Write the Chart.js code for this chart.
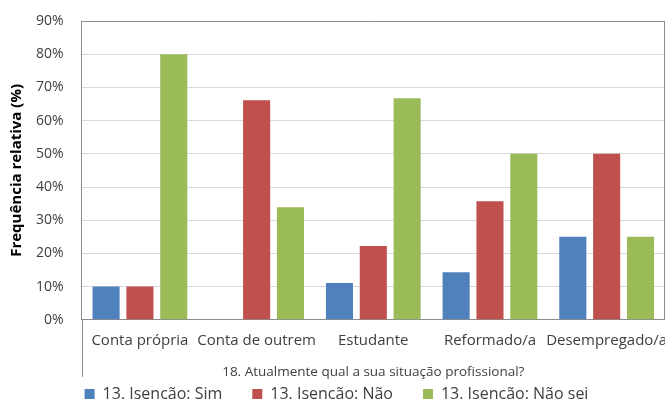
<!DOCTYPE html>
<html>
<head>
<meta charset="utf-8">
<script src="https://cdn.jsdelivr.net/npm/chart.js@4/dist/chart.umd.min.js"></script>
<style>
  html, body { margin: 0; padding: 0; background: #fff; }
  #wrap { width: 665px; height: 407px; }
</style>
</head>
<body>
<div id="wrap"><canvas id="chart" width="665" height="407"></canvas></div>
<script>
// Situação profissional vs. resposta sobre isenção (frequência relativa, %)
const categorias = ['Conta própria', 'Conta de outrem', 'Estudante', 'Reformado/a', 'Desempregado/a'];
const serieSim = [10, 0, 11.1, 14.3, 25];
const serieNao = [10, 66.1, 22.2, 35.7, 50];
const serieNaoSei = [80, 33.9, 66.7, 50, 25];
const nomesSeries = ['13. Isencão: Sim', '13. Isencão: Não', '13. Isencão: Não sei'];
const yTicks = [0, 10, 20, 30, 40, 50, 60, 70, 80, 90];

const FONT = '"Open Sans", sans-serif';
const TXT = '#404040';

// moldura da área do gráfico + prolongamento do eixo vertical
const frame = {
    id: 'frame',
    beforeDatasetsDraw(chart) {
        const { ctx, chartArea: a } = chart;
        ctx.save();
        ctx.strokeStyle = '#8c8c8c';
        ctx.lineWidth = 1;
        ctx.beginPath();
        ctx.moveTo(Math.round(a.left) + 0.5, a.bottom);
        ctx.lineTo(Math.round(a.left) + 0.5, a.bottom + 57);
        ctx.moveTo(a.left, Math.round(a.top) + 0.5);
        ctx.lineTo(a.right, Math.round(a.top) + 0.5);
        ctx.moveTo(Math.round(a.right) - 0.5, a.top);
        ctx.lineTo(Math.round(a.right) - 0.5, a.bottom);
        ctx.stroke();
        ctx.restore();
    }
};

const cores = ['#4F81BD', '#C0504D', '#9BBB59'];
const series = [serieSim, serieNao, serieNaoSei];

new Chart(document.getElementById('chart'), {
    type: 'bar',
    data: {
        labels: categorias,
        datasets: series.map((d, i) => ({
            label: nomesSeries[i],
            data: d,
            backgroundColor: cores[i],
            borderWidth: 0,
            barPercentage: 0.8,
            categoryPercentage: 0.87
        }))
    },
    options: {
        responsive: false,
        animation: false,
        layout: { padding: { top: 21, left: 8, right: 0, bottom: -5 } },
        plugins: {
            legend: {
                position: 'bottom',
                labels: {
                    boxWidth: 10,
                    boxHeight: 10,
                    padding: 30,
                    color: TXT,
                    font: { family: FONT, size: 16 }
                }
            },
            tooltip: { enabled: false }
        },
        scales: {
            x: {
                grid: { display: false, drawTicks: false },
                border: { color: '#8c8c8c' },
                ticks: {
                    color: TXT, padding: 12, maxRotation: 0, autoSkip: false,
                    font: { family: FONT, size: 15 }
                },
                title: {
                    display: true,
                    text: '18. Atualmente qual a sua situação profissional?',
                    color: TXT,
                    padding: { top: 2, bottom: -24 },
                    font: { family: FONT, size: 13.5 }
                },
                afterFit(scale) { scale.paddingRight = 0; }
            },
            y: {
                min: 0,
                max: 90,
                afterBuildTicks(scale) { scale.ticks = yTicks.map(v => ({ value: v })); },
                afterFit(scale) { scale.paddingTop = 0; },
                grid: { color: '#d9d9d9', drawTicks: false },
                border: { color: '#8c8c8c' },
                ticks: {
                    color: TXT,
                    padding: 18,
                    font: { family: FONT, size: 14 },
                    callback: v => v + '%'
                },
                title: {
                    display: true,
                    text: 'Frequência relativa (%)',
                    color: '#000',
                    padding: { top: 0, bottom: -8 },
                    font: { family: FONT, size: 15, weight: 'bold' }
                }
            }
        }
    },
    plugins: [frame]
});
</script>
</body>
</html>
